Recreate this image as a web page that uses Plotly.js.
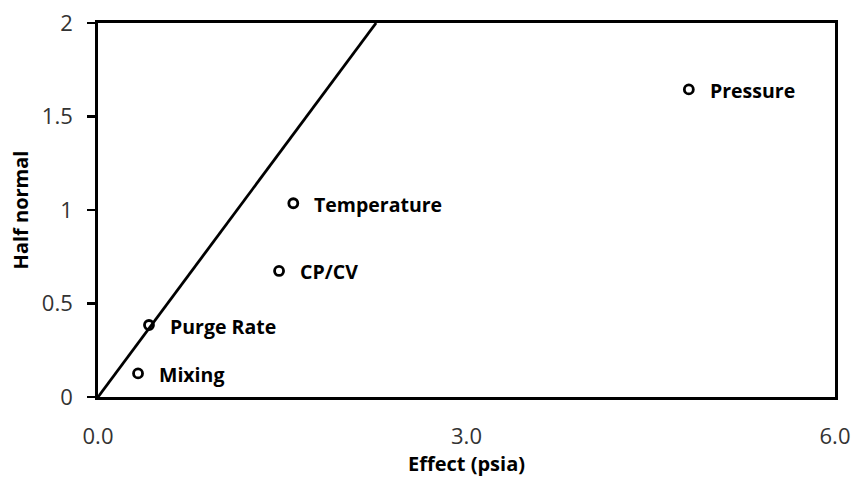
<!DOCTYPE html>
<html>
<head>
<meta charset="utf-8">
<script src="https://cdn.plot.ly/plotly-3.0.1.min.js"></script>
<style>html,body{margin:0;padding:0;background:#fff;}#chart{width:854px;height:481px;}</style>
</head>
<body>
<div id="chart"></div>
<script>
// Effects (psia) and half-normal scores
const factors = ["Mixing", "Purge Rate", "CP/CV", "Temperature", "Pressure"];
const effects = [0.326, 0.415, 1.474, 1.59, 4.81];
const halfNormal = [0.126, 0.385, 0.674, 1.036, 1.645];
// reference line through origin
const lineX = [0, 2.264];
const lineY = [0, 2];

const FONT = "Open Sans, Lato, sans-serif";

const traces = [
  {
    x: lineX, y: lineY, mode: "lines", type: "scatter",
    line: {color: "#000", width: 2.8}, hoverinfo: "skip", showlegend: false
  },
  {
    x: effects, y: halfNormal, mode: "markers", type: "scatter",
    marker: {symbol: "circle-open", size: 9, color: "#000", line: {width: 2.8, color: "#000"}},
    showlegend: false
  }
];

const annotations = factors.map((f, i) => ({
  x: effects[i], y: halfNormal[i], xref: "x", yref: "y",
  text: f, showarrow: false, xanchor: "left", yanchor: "middle",
  xshift: 19, yshift: -1,
  font: {family: FONT, size: 19.5, color: "#000", weight: "bold"}
}));

const layout = {
  width: 854, height: 481,
  margin: {l: 98, r: 19, t: 23, b: 84},
  paper_bgcolor: "#fff", plot_bgcolor: "#fff",
  font: {family: FONT, color: "#000"},
  showlegend: false,
  xaxis: {
    range: [0, 6], dtick: 3, tick0: 0, tickformat: ".1f",
    showgrid: false, zeroline: false,
    showline: true, linecolor: "#000", linewidth: 2.8, mirror: true,
    ticks: "", ticklabelstandoff: 18,
    tickfont: {family: FONT, size: 22, color: "#333"},
    title: {text: "Effect (psia)", standoff: 6, font: {family: FONT, size: 20, color: "#000", weight: "bold"}}
  },
  yaxis: {
    range: [0, 2], dtick: 0.5, tick0: 0,
    showgrid: false, zeroline: false,
    showline: true, linecolor: "#000", linewidth: 2.8, mirror: true,
    ticks: "outside", ticklen: 8, tickwidth: 2.8, tickcolor: "#000",
    ticklabelstandoff: 10,
    tickfont: {family: FONT, size: 22, color: "#333"},
    title: {text: "Half normal", standoff: 8, font: {family: FONT, size: 20, color: "#000", weight: "bold"}}
  },
  annotations: annotations
};

Plotly.newPlot("chart", traces, layout, {displayModeBar: false, staticPlot: true});
</script>
</body>
</html>
